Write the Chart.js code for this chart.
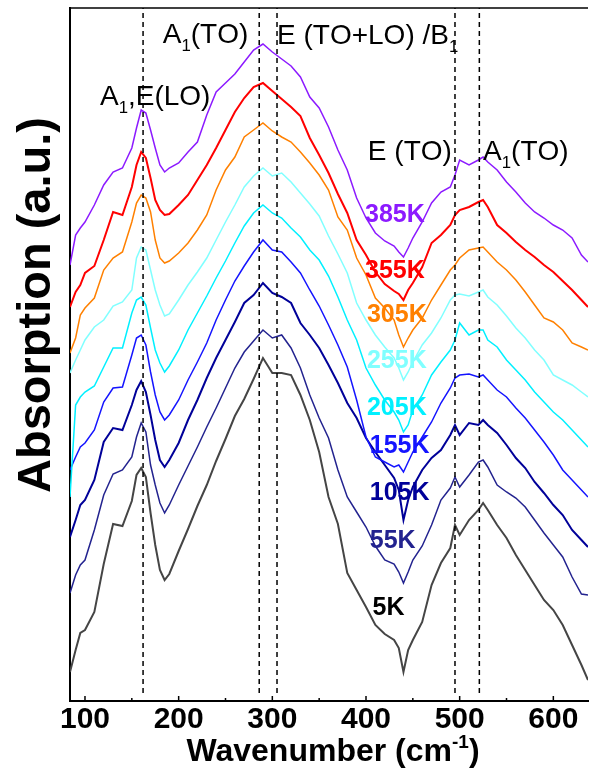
<!DOCTYPE html>
<html>
<head>
<meta charset="utf-8">
<script src="https://cdn.jsdelivr.net/npm/chart.js@4.4.1/dist/chart.umd.min.js"></script>
<style>
  html, body { margin: 0; padding: 0; background: #fff; }
</style>
</head>
<body>
<canvas id="chart" width="589" height="770"></canvas>
<script>
// wavenumber grid (cm-1) and the nine spectra (arbitrary units, offset)
const wavenumber = [84, 90, 95, 100, 110, 120, 130, 140, 150, 155, 160, 165, 170, 175, 180, 185, 190, 200, 210, 220, 230, 240, 250, 260, 270, 280, 290, 300, 310, 320, 330, 340, 350, 360, 370, 380, 390, 400, 410, 420, 430, 435, 440, 445, 450, 460, 470, 480, 490, 495, 500, 510, 520, 525, 530, 540, 550, 560, 570, 580, 590, 600, 610, 620, 630, 637];

const temperatures = ['385K', '355K', '305K', '255K', '205K', '155K', '105K', '55K', '5K'];

const abs385K = [436, 466, 473, 479, 496, 516, 529, 533, 553, 573, 591, 588, 571, 553, 536, 529, 533, 538, 549, 559, 586, 609, 618, 627, 639, 651, 657, 649, 642, 635, 624, 604, 593, 574, 551, 531, 503, 483, 468, 460, 455, 449, 444, 453, 463, 479, 498, 509, 514, 526, 541, 536, 541, 544, 539, 531, 519, 509, 498, 489, 483, 476, 471, 463, 446, 439];
const abs355K = [394, 409, 416, 428, 435, 461, 489, 486, 514, 536, 549, 543, 523, 501, 491, 486, 487, 496, 506, 521, 536, 553, 571, 589, 603, 614, 618, 610, 602, 594, 585, 563, 546, 528, 507, 488, 461, 446, 429, 417, 410, 407, 401, 411, 418, 434, 458, 466, 476, 486, 491, 494, 499, 501, 494, 476, 468, 459, 451, 444, 436, 429, 420, 411, 401, 394];
const abs305K = [348, 363, 386, 393, 403, 431, 443, 449, 479, 498, 506, 503, 489, 461, 443, 438, 440, 448, 458, 471, 486, 511, 531, 544, 564, 571, 578, 570, 564, 559, 549, 538, 526, 511, 484, 471, 443, 426, 403, 393, 381, 366, 354, 363, 371, 383, 401, 416, 431, 436, 443, 451, 453, 454, 449, 439, 431, 421, 409, 396, 383, 379, 371, 358, 354, 351];
const abs255K = [328, 341, 351, 361, 374, 381, 395, 399, 411, 443, 454, 451, 431, 411, 396, 385, 387, 401, 416, 429, 443, 461, 479, 496, 514, 525, 533, 525, 528, 519, 508, 497, 485, 465, 447, 428, 398, 381, 366, 354, 343, 333, 321, 329, 339, 356, 368, 383, 401, 406, 407, 405, 409, 411, 404, 396, 385, 373, 363, 351, 341, 326, 321, 316, 309, 304];
const abs205K = [204, 296, 304, 309, 315, 334, 353, 353, 388, 401, 404, 396, 373, 351, 338, 329, 335, 351, 371, 388, 405, 423, 440, 458, 475, 488, 496, 488, 483, 473, 464, 451, 441, 425, 404, 381, 361, 333, 316, 301, 289, 281, 269, 276, 291, 306, 326, 339, 351, 361, 378, 366, 371, 371, 361, 354, 341, 331, 321, 309, 299, 289, 281, 271, 261, 254];
const abs155K = [231, 244, 254, 258, 271, 299, 313, 314, 346, 363, 366, 356, 329, 306, 289, 281, 286, 301, 321, 339, 358, 381, 401, 420, 435, 449, 461, 451, 449, 439, 428, 411, 395, 376, 356, 334, 301, 264, 244, 239, 234, 236, 229, 239, 249, 264, 279, 298, 313, 323, 326, 327, 324, 326, 321, 311, 304, 293, 283, 271, 259, 246, 231, 221, 211, 204];
const abs105K = [164, 181, 196, 201, 221, 259, 273, 271, 296, 311, 320, 309, 286, 261, 241, 234, 241, 258, 281, 301, 323, 343, 361, 379, 398, 406, 418, 408, 404, 398, 378, 366, 353, 336, 318, 298, 283, 263, 249, 236, 223, 211, 181, 201, 214, 231, 243, 251, 266, 276, 266, 278, 276, 281, 276, 268, 256, 243, 233, 219, 208, 196, 186, 171, 161, 154];
const abs55K = [108, 126, 136, 141, 171, 206, 227, 231, 244, 264, 278, 269, 236, 216, 198, 188, 196, 216, 235, 254, 274, 293, 313, 333, 349, 360, 371, 363, 366, 353, 333, 306, 283, 263, 231, 204, 189, 174, 155, 141, 137, 129, 118, 129, 141, 155, 176, 201, 213, 224, 214, 226, 239, 241, 234, 216, 209, 203, 194, 181, 168, 156, 144, 124, 107, 106];
const abs5K = [29, 51, 68, 71, 89, 137, 177, 175, 200, 226, 233, 224, 188, 156, 131, 121, 127, 150, 172, 195, 216, 240, 262, 285, 302, 322, 343, 328, 328, 326, 306, 281, 249, 204, 177, 128, 111, 94, 76, 67, 61, 53, 29, 51, 61, 79, 116, 138, 153, 176, 166, 181, 191, 198, 191, 176, 163, 146, 131, 116, 101, 91, 76, 56, 36, 21];

const spectra = [abs385K, abs355K, abs305K, abs255K, abs205K, abs155K, abs105K, abs55K, abs5K];
const lineColors = ['#8c1aff', '#ff0000', '#ff8000', '#80ffff', '#00f0ff', '#1414ff', '#000099', '#23238f', '#454545'];
const lineWidths = [1.5, 2, 1.5, 1.5, 1.5, 1.5, 2, 1.5, 2];
const textColors = ['#8c1aff', '#ff0000', '#ff8000', '#80ffff', '#00f0ff', '#1414ff', '#000099', '#23238f', '#000000'];

// where the temperature labels sit (cm-1, a.u.)
const tempLabelX = [399, 399, 401, 401, 401, 404, 404, 404, 407];
const tempLabelY = [479, 423, 379, 333, 286, 248, 201, 153, 86];

// phonon mode positions (dashed lines) and their labels; "_" marks a subscript
const modeLines = [162, 286, 305, 495, 521];
const modeLineSpan = [8, 693];
const modeLabels = ['A_1,E(LO)', 'A_1(TO)', 'E (TO+LO) /B_1', 'E (TO)', 'A_1(TO)'];
const modeLabelX = [116, 183, 305, 402, 525];
const modeLabelY = [596, 658, 657, 541, 541];

const xTickValues = [100, 200, 300, 400, 500, 600];
const xMinorTicks = [150, 250, 350, 450, 550];

const datasets = [];
modeLines.forEach(w => {
  datasets.push({
    data: modeLineSpan.map(v => ({ x: w, y: v })),
    borderColor: '#000',
    borderWidth: 1.5,
    borderDash: [5, 4],
    pointRadius: 0
  });
});
spectra.forEach((s, i) => {
  datasets.push({
    label: temperatures[i],
    data: wavenumber.map((w, j) => ({ x: w, y: s[j] })),
    borderColor: lineColors[i],
    borderWidth: lineWidths[i],
    pointRadius: 0,
    tension: 0
  });
});

function drawRich(ctx, text, x, y, size) {
  let cx = x;
  for (let i = 0; i < text.length; i++) {
    if (text[i] === '_') {
      i++;
      ctx.font = (size * 0.6) + 'px "Liberation Sans"';
      ctx.fillText(text[i], cx, y + size * 0.28);
      cx += ctx.measureText(text[i]).width;
    } else {
      ctx.font = size + 'px "Liberation Sans"';
      ctx.fillText(text[i], cx, y);
      cx += ctx.measureText(text[i]).width;
    }
  }
}

const decorations = {
  id: 'decorations',
  afterDraw(chart) {
    const { ctx, chartArea: a, scales: { x, y } } = chart;
    ctx.save();
    ctx.strokeStyle = '#000';
    ctx.fillStyle = '#000';

    // top frame
    ctx.lineWidth = 1.5;
    ctx.beginPath();
    ctx.moveTo(a.left, a.top);
    ctx.lineTo(a.right, a.top);
    ctx.stroke();

    // inward ticks
    xTickValues.forEach(v => {
      const px = x.getPixelForValue(v);
      ctx.beginPath(); ctx.moveTo(px, a.bottom); ctx.lineTo(px, a.bottom - 5); ctx.stroke();
    });
    xMinorTicks.forEach(v => {
      const px = x.getPixelForValue(v);
      ctx.beginPath(); ctx.moveTo(px, a.bottom); ctx.lineTo(px, a.bottom - 3); ctx.stroke();
    });

    // mode labels
    ctx.textBaseline = 'alphabetic';
    ctx.textAlign = 'left';
    modeLabels.forEach((t, i) => {
      drawRich(ctx, t, x.getPixelForValue(modeLabelX[i]), y.getPixelForValue(modeLabelY[i]), 28);
    });

    // temperature labels
    ctx.font = 'bold 25px "Liberation Sans"';
    temperatures.forEach((t, i) => {
      ctx.fillStyle = textColors[i];
      ctx.fillText(t, x.getPixelForValue(tempLabelX[i]), y.getPixelForValue(tempLabelY[i]));
    });

    // axis titles
    ctx.fillStyle = '#000';
    ctx.save();
    ctx.translate(50, 305);
    ctx.rotate(-Math.PI / 2);
    ctx.textAlign = 'center';
    ctx.font = 'bold 47px "Liberation Sans"';
    ctx.fillText('Absorption (a.u.)', 0, 0);
    ctx.restore();

    const main = 'Wavenumber (cm';
    ctx.font = 'bold 32px "Liberation Sans"';
    const w1 = ctx.measureText(main).width;
    const w3 = ctx.measureText(')').width;
    ctx.font = 'bold 19px "Liberation Sans"';
    const w2 = ctx.measureText('-1').width;
    let tx = 333 - (w1 + w2 + w3) / 2;
    const ty = 761;
    ctx.font = 'bold 32px "Liberation Sans"';
    ctx.fillText(main, tx, ty);
    tx += w1;
    ctx.font = 'bold 19px "Liberation Sans"';
    ctx.fillText('-1', tx, ty - 13);
    tx += w2;
    ctx.font = 'bold 32px "Liberation Sans"';
    ctx.fillText(')', tx, ty);
    ctx.restore();
  }
};

new Chart(document.getElementById('chart'), {
  type: 'line',
  data: { datasets: datasets },
  options: {
    responsive: false,
    animation: false,
    devicePixelRatio: 1,
    layout: { padding: { left: 70, right: 1, top: 8, bottom: 31 } },
    plugins: { legend: { display: false }, tooltip: { enabled: false } },
    scales: {
      x: {
        type: 'linear',
        min: 84,
        max: 637,
        afterBuildTicks: axis => { axis.ticks = xTickValues.map(v => ({ value: v })); },
        grid: { display: false, drawTicks: false },
        border: { color: '#000', width: 2 },
        ticks: {
          color: '#000',
          padding: 1,
          maxRotation: 0,
          font: { family: 'Liberation Sans', size: 30, weight: 'bold', lineHeight: 1.2 }
        }
      },
      y: {
        min: 0,
        max: 693,
        grid: { display: false, drawTicks: false },
        border: { color: '#000', width: 2 },
        ticks: { display: false }
      }
    }
  },
  plugins: [decorations]
});
</script>
</body>
</html>
